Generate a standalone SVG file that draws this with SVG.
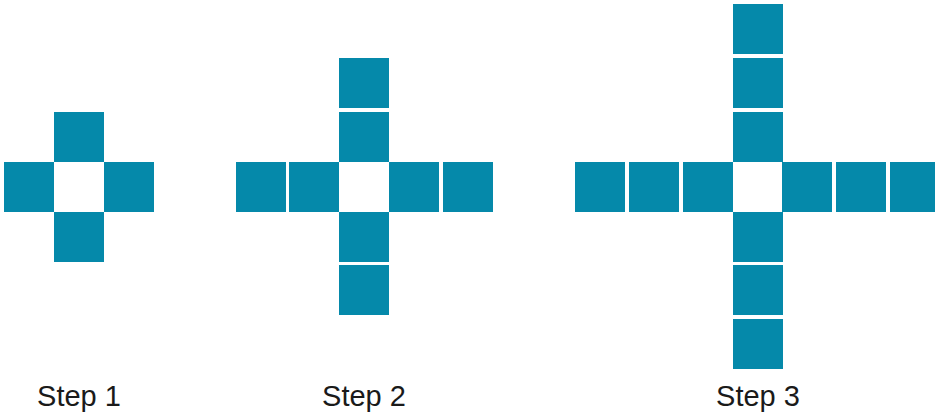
<svg xmlns="http://www.w3.org/2000/svg" width="935" height="416" viewBox="0 0 935 416">
<style>
.sq{fill:#0589aa}
.lbl{font-family:"Liberation Sans",Arial,sans-serif;font-size:29px;fill:#1a1a1a;text-anchor:middle}
</style>
<rect width="935" height="416" fill="#ffffff"/>
<g id="step1">
<rect class="sq" x="54" y="112" width="50" height="50"/>
<rect class="sq" x="4" y="162" width="50" height="50"/>
<rect class="sq" x="104" y="162" width="50" height="50"/>
<rect class="sq" x="54" y="212" width="50" height="50"/>
<text class="lbl" x="79" y="406">Step 1</text>
</g>
<g id="step2">
<rect class="sq" x="339" y="58" width="50" height="50"/>
<rect class="sq" x="339" y="112" width="50" height="50"/>
<rect class="sq" x="236" y="162" width="50" height="50"/>
<rect class="sq" x="289" y="162" width="50" height="50"/>
<rect class="sq" x="389" y="162" width="50" height="50"/>
<rect class="sq" x="443" y="162" width="50" height="50"/>
<rect class="sq" x="339" y="212" width="50" height="50"/>
<rect class="sq" x="339" y="265" width="50" height="50"/>
<text class="lbl" x="364" y="406">Step 2</text>
</g>
<g id="step3">
<rect class="sq" x="733" y="4" width="50" height="50"/>
<rect class="sq" x="733" y="58" width="50" height="50"/>
<rect class="sq" x="733" y="112" width="50" height="50"/>
<rect class="sq" x="575" y="162" width="50" height="50"/>
<rect class="sq" x="629" y="162" width="50" height="50"/>
<rect class="sq" x="683" y="162" width="50" height="50"/>
<rect class="sq" x="782" y="162" width="50" height="50"/>
<rect class="sq" x="836" y="162" width="50" height="50"/>
<rect class="sq" x="890" y="162" width="45" height="50"/>
<rect class="sq" x="733" y="212" width="50" height="50"/>
<rect class="sq" x="733" y="265" width="50" height="50"/>
<rect class="sq" x="733" y="319" width="50" height="50"/>
<text class="lbl" x="758" y="406">Step 3</text>
</g>
<g id="connectors"/>
</svg>
